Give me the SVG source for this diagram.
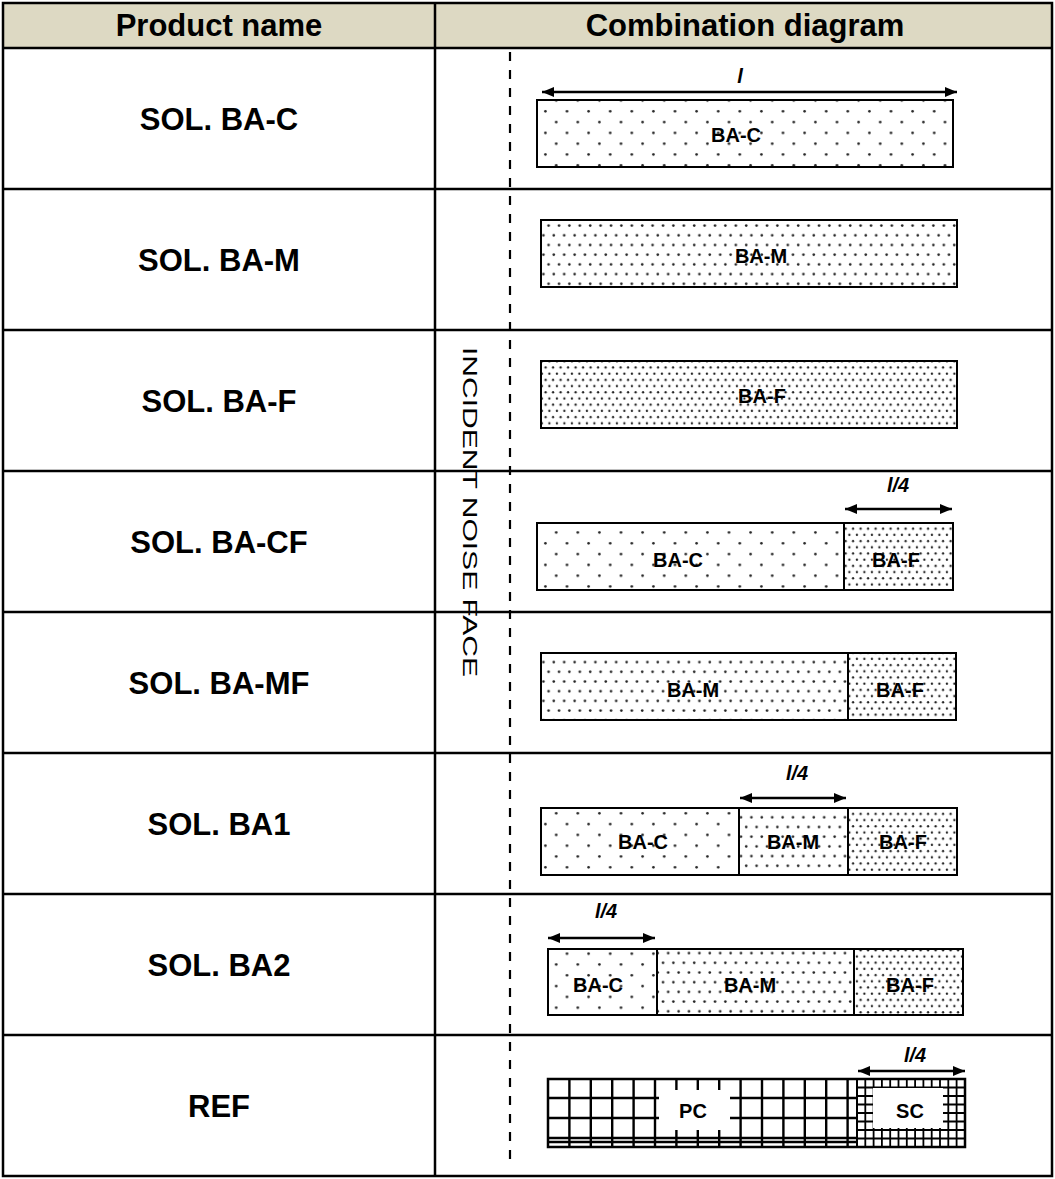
<svg xmlns="http://www.w3.org/2000/svg" width="1055" height="1179" viewBox="0 0 1055 1179">
<style>
.grid{stroke:#000;stroke-width:2.5;fill:none}
.hdr{font-family:"Liberation Sans",Arial,sans-serif;font-weight:bold;font-size:31px;text-anchor:middle;fill:#000}
.lbl{font-family:"Liberation Sans",Arial,sans-serif;font-weight:bold;font-size:31px;text-anchor:middle;fill:#000}
.seg{font-family:"Liberation Sans",Arial,sans-serif;font-weight:bold;font-size:20px;text-anchor:middle;fill:#000}
.dim{font-family:"Liberation Sans",Arial,sans-serif;font-weight:bold;font-style:italic;font-size:20px;text-anchor:middle;fill:#000}
.box{stroke:#000;stroke-width:2;}
.arr{stroke:#000;stroke-width:2.5;fill:none;marker-start:url(#ah);marker-end:url(#ah)}
.gl{stroke:#000;stroke-width:2.4;fill:none}
.gs{stroke:#000;stroke-width:1.8;fill:none}
</style>
<defs>
<marker id="ah" viewBox="0 0 12 10" refX="12" refY="5" markerWidth="12" markerHeight="10" orient="auto-start-reverse" markerUnits="userSpaceOnUse"><path d="M0,0 L12,5 L0,10 z" fill="#000"/></marker>
<pattern id="pC" patternUnits="userSpaceOnUse" x="0" y="0" width="21.6" height="21.6"><rect width="21.6" height="21.6" fill="#fff"/><circle cx="5.4" cy="3.3" r="1.3" fill="#222"/><circle cx="16.2" cy="14.1" r="1.3" fill="#222"/></pattern>
<pattern id="pM" patternUnits="userSpaceOnUse" x="0" y="0" width="10.4" height="19.4"><rect width="10.4" height="19.4" fill="#fff"/><circle cx="2.6" cy="2.5" r="1.3" fill="#222"/><circle cx="7.8" cy="12.2" r="1.3" fill="#222"/></pattern>
<pattern id="pF" patternUnits="userSpaceOnUse" x="0" y="0" width="7.5" height="12.4"><rect width="7.5" height="12.4" fill="#fff"/><circle cx="1.9" cy="1.6" r="1.15" fill="#222"/><circle cx="5.6" cy="7.8" r="1.15" fill="#222"/></pattern>
</defs>

<g id="table">
<rect x="3" y="3" width="1049" height="45" fill="#DDD9C3"/>
<path class="grid" d="M3,48 H1052 M3,189 H1052 M3,330 H1052 M3,471 H1052 M3,612 H1052 M3,753 H1052 M3,894 H1052 M3,1035 H1052 M435,3 V1176"/>
<rect class="grid" x="3" y="3" width="1049" height="1173"/>
<text class="hdr" x="219" y="36">Product name</text>
<text class="hdr" x="745" y="36">Combination diagram</text>
</g>

<g id="labels">
<text id="lbl-bac" class="lbl" x="219" y="130">SOL. BA-C</text>
<text id="lbl-bam" class="lbl" x="219" y="271">SOL. BA-M</text>
<text id="lbl-baf" class="lbl" x="219" y="412">SOL. BA-F</text>
<text id="lbl-bacf" class="lbl" x="219" y="553">SOL. BA-CF</text>
<text id="lbl-bamf" class="lbl" x="219" y="694">SOL. BA-MF</text>
<text id="lbl-ba1" class="lbl" x="219" y="835">SOL. BA1</text>
<text id="lbl-ba2" class="lbl" x="219" y="976">SOL. BA2</text>
<text id="lbl-ref" class="lbl" x="219" y="1117">REF</text>
</g>

<g id="incident-face">
<line x1="510" y1="52" x2="510" y2="1168" stroke="#000" stroke-width="2.2" stroke-dasharray="9 9"/>
<text x="0" y="0" transform="translate(463,347) rotate(90)" font-family="'Liberation Sans',Arial,sans-serif" font-size="21" textLength="330" lengthAdjust="spacingAndGlyphs" fill="#000">INCIDENT NOISE FACE</text>
</g>

<g id="connectors">
<line class="arr" x1="542" y1="92" x2="957" y2="92"/>
<line class="arr" x1="845" y1="509" x2="952" y2="509"/>
<line class="arr" x1="740" y1="798" x2="846" y2="798"/>
<line class="arr" x1="548" y1="938" x2="655" y2="938"/>
<line class="arr" x1="858" y1="1071" x2="965" y2="1071"/>
</g>

<g id="row-bac">
<text class="dim" x="740" y="83">l</text>
<rect class="box" x="537" y="100" width="416" height="67" fill="url(#pC)"/>
<text class="seg" x="736" y="142">BA-C</text>
</g>

<g id="row-bam">
<rect class="box" x="541" y="220" width="416" height="67" fill="url(#pM)"/>
<text class="seg" x="761" y="263">BA-M</text>
</g>

<g id="row-baf">
<rect class="box" x="541" y="361" width="416" height="67" fill="url(#pF)"/>
<text class="seg" x="762" y="403">BA-F</text>
</g>

<g id="row-bacf">
<text class="dim" x="898" y="492">l/4</text>
<rect class="box" x="537" y="523" width="307" height="67" fill="url(#pC)"/>
<rect class="box" x="844" y="523" width="109" height="67" fill="url(#pF)"/>
<text class="seg" x="678" y="567">BA-C</text>
<text class="seg" x="896" y="567">BA-F</text>
</g>

<g id="row-bamf">
<rect class="box" x="541" y="653" width="307" height="67" fill="url(#pM)"/>
<rect class="box" x="848" y="653" width="108" height="67" fill="url(#pF)"/>
<text class="seg" x="693" y="697">BA-M</text>
<text class="seg" x="900" y="697">BA-F</text>
</g>

<g id="row-ba1">
<text class="dim" x="797" y="780">l/4</text>
<rect class="box" x="541" y="808" width="198" height="67" fill="url(#pC)"/>
<rect class="box" x="739" y="808" width="109" height="67" fill="url(#pM)"/>
<rect class="box" x="848" y="808" width="109" height="67" fill="url(#pF)"/>
<text class="seg" x="643" y="849">BA-C</text>
<text class="seg" x="793" y="849">BA-M</text>
<text class="seg" x="903" y="849">BA-F</text>
</g>

<g id="row-ba2">
<text class="dim" x="606" y="918">l/4</text>
<rect class="box" x="548" y="949" width="109" height="66" fill="url(#pC)"/>
<rect class="box" x="657" y="949" width="197" height="66" fill="url(#pM)"/>
<rect class="box" x="854" y="949" width="109" height="66" fill="url(#pF)"/>
<text class="seg" x="598" y="992">BA-C</text>
<text class="seg" x="750" y="992">BA-M</text>
<text class="seg" x="910" y="992">BA-F</text>
</g>

<g id="row-ref">
<text class="dim" x="915" y="1062">l/4</text>
<rect x="548" y="1079" width="417" height="68" fill="#fff"/>
<path class="gl" d="M569.4,1079 V1147 M590.8,1079 V1147 M612.2,1079 V1147 M633.6,1079 V1147 M655,1079 V1147 M676.4,1079 V1147 M697.8,1079 V1147 M719.2,1079 V1147 M740.6,1079 V1147 M762,1079 V1147 M783.4,1079 V1147 M804.8,1079 V1147 M826.2,1079 V1147 M847.6,1079 V1147 M548,1098 H857 M548,1118 H857 M548,1138 H857 M548,1142 H857"/>
<path class="gs" d="M865.3,1079 V1147 M873.6,1079 V1147 M881.9,1079 V1147 M890.2,1079 V1147 M898.5,1079 V1147 M906.8,1079 V1147 M915.1,1079 V1147 M923.4,1079 V1147 M931.7,1079 V1147 M940,1079 V1147 M948.3,1079 V1147 M956.6,1079 V1147 M857,1087.5 H965 M857,1096 H965 M857,1104.5 H965 M857,1113 H965 M857,1121.5 H965 M857,1130 H965 M857,1138.5 H965"/>
<rect x="659" y="1090" width="71" height="40" fill="#fff"/>
<rect x="873" y="1088" width="70" height="40" fill="#fff"/>
<rect x="548" y="1079" width="417" height="68" fill="none" stroke="#000" stroke-width="2.5"/>
<line x1="857" y1="1079" x2="857" y2="1147" stroke="#000" stroke-width="2"/>
<text class="seg" x="693" y="1118">PC</text>
<text class="seg" x="910" y="1118">SC</text>
</g>
</svg>
